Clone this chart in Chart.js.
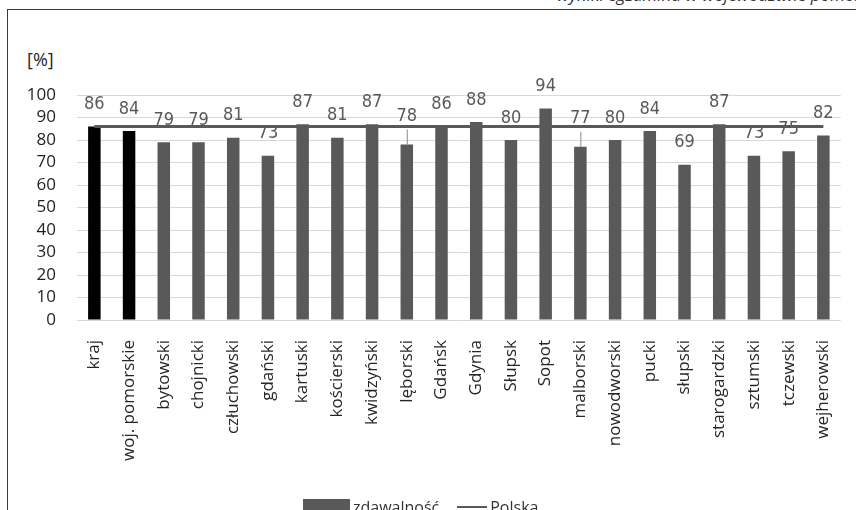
<!DOCTYPE html>
<html>
<head>
<meta charset="utf-8">
<script src="https://cdn.jsdelivr.net/npm/chart.js@4/dist/chart.umd.min.js"></script>
<style>
  html, body { margin: 0; padding: 0; width: 856px; height: 510px; overflow: hidden; background: #fff; }
  #frame { position: absolute; left: 7px; top: 9px; width: 900px; height: 560px; border: 1.5px solid #3a3a3a; box-sizing: border-box; }
  #caption { position: absolute; right: -40px; top: -17px; font: italic 17px "Open Sans", sans-serif; color: #333; white-space: nowrap; }
  #unit { position: absolute; left: 27px; top: 47px; font: 18px "Open Sans", sans-serif; color: #262626; }
  #chart { position: absolute; left: 0; top: 0; }
  #legend { position: absolute; top: 494px; left: 303px; font: 16px "Open Sans", sans-serif; color: #333; white-space: nowrap; }
  #legend span { display: inline-block; vertical-align: middle; }
  .box { width: 47px; height: 16px; background: #595959; margin-right: 3px; }
  .ln { width: 30px; height: 2px; background: #595959; margin: 0 3px 0 18px; }
</style>
</head>
<body>
<div id="caption">wyniki egzaminu w województwie pomorskim</div>
<div id="frame"></div>
<div id="unit">[%]</div>
<canvas id="chart" width="856" height="510"></canvas>
<div id="legend"><span class="box"></span><span>zdawalność</span><span class="ln"></span><span>Polska</span></div>
<script>
const categories = ['kraj', 'woj. pomorskie', 'bytowski', 'chojnicki', 'człuchowski', 'gdański', 'kartuski',
  'kościerski', 'kwidzyński', 'lęborski', 'Gdańsk', 'Gdynia', 'Słupsk', 'Sopot', 'malborski', 'nowodworski',
  'pucki', 'słupski', 'starogardzki', 'sztumski', 'tczewski', 'wejherowski'];
const zdawalnosc = [86, 84, 79, 79, 81, 73, 87, 81, 87, 78, 86, 88, 80, 94, 77, 80, 84, 69, 87, 73, 75, 82];
const polska = categories.map(() => 86);
const yTicks = [0, 10, 20, 30, 40, 50, 60, 70, 80, 90, 100];

const barColors = categories.map((c, i) => i < 2 ? '#000000' : '#595959');

// etykiety wartości nad słupkami (z odnośnikiem dla przesuniętych)
const shifted = ['lęborski', 'malborski'];
const valueLabels = {
  id: 'valueLabels',
  afterDatasetsDraw(chart) {
    const meta = chart.getDatasetMeta(0);
    const ctx = chart.ctx;
    ctx.save();
    ctx.font = '18px "Liberation Sans Narrow", "DejaVu Sans Condensed", sans-serif';
    ctx.fillStyle = '#595959';
    ctx.textAlign = 'center';
    ctx.textBaseline = 'middle';
    meta.data.forEach((el, i) => {
      const moved = shifted.includes(categories[i]);
      const y = moved ? el.y - 28 : el.y - 22;
      ctx.fillText(String(zdawalnosc[i]), el.x, y);
      if (moved) {
        ctx.strokeStyle = '#8c8c8c';
        ctx.lineWidth = 1;
        ctx.beginPath();
        ctx.moveTo(el.x + 0.5, y + 13);
        ctx.lineTo(el.x + 0.5, el.y);
        ctx.stroke();
      }
    });
    ctx.restore();
  }
};

new Chart(document.getElementById('chart').getContext('2d'), {
  data: {
    labels: categories,
    datasets: [
      { type: 'bar', label: 'zdawalność', data: zdawalnosc, backgroundColor: barColors, borderWidth: 0,
        barPercentage: 0.36, categoryPercentage: 1, order: 1 },
      { type: 'line', label: 'Polska', data: polska, borderColor: '#595959', borderWidth: 3,
        pointRadius: 0, fill: false, order: 0 }
    ]
  },
  options: {
    responsive: false,
    animation: false,
    devicePixelRatio: 1,
    layout: { padding: { top: 95, right: 10, left: 0, bottom: 0 } },
    plugins: { legend: { display: false }, tooltip: { enabled: false } },
    scales: {
      x: {
        afterFit: (s) => { s.height = 190; },
        grid: { display: false },
        border: { display: false },
        ticks: { autoSkip: false, minRotation: 90, maxRotation: 90, padding: 12, color: '#262626',
          font: { family: 'Open Sans', size: 17 } }
      },
      y: {
        min: 0, max: 100,
        afterFit: (s) => { s.width = 77; },
        afterBuildTicks: (s) => { s.ticks = yTicks.map(v => ({ value: v })); },
        grid: { color: '#d9d9d9', lineWidth: 1, drawTicks: false },
        border: { display: false },
        ticks: { autoSkip: false, padding: 21, color: '#1f1f1f', font: { family: 'Open Sans', size: 17 } }
      }
    }
  },
  plugins: [valueLabels]
});
</script>
</body>
</html>
